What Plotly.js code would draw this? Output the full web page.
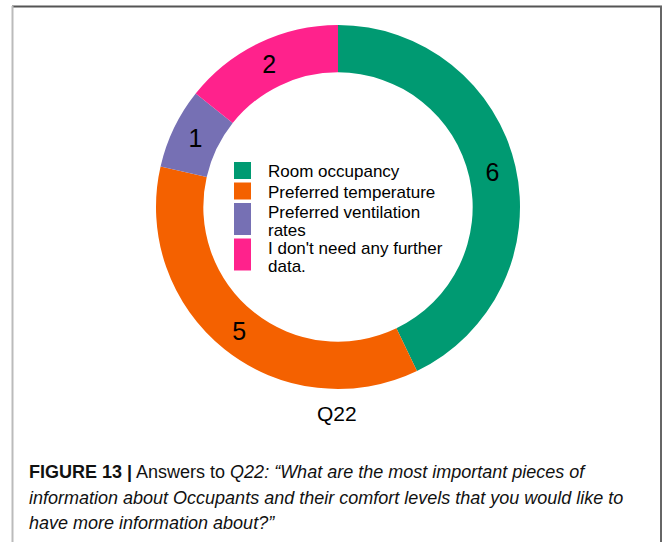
<!DOCTYPE html>
<html>
<head>
<meta charset="utf-8">
<script src="https://cdn.plot.ly/plotly-3.0.1.min.js"></script>
<style>html,body{margin:0;padding:0;background:#fff;}#chart{width:663px;height:542px;}</style>
</head>
<body>
<div id="chart"></div>
<script>
// Data
const categories = ['Room occupancy', 'Preferred temperature', 'Preferred ventilation<br>rates', "I don't need any further<br>data."];
const counts = [6, 5, 1, 2];
const colors = ['#009A72', '#F46100', '#7670B4', '#FF228C'];
const chartTitle = 'Q22';
const captionLines = [
  '<b>FIGURE 13 |</b> Answers to <i>Q22: “What are the most important pieces of</i>',
  '<i>information about Occupants and their comfort levels that you would like to</i>',
  '<i>have more information about?”</i>'
];

const W = 663, H = 542;
const px = x => x / W;
const py = y => 1 - y / H;

const cx = 338, cy = 207, R = 182;

const trace = {
  type: 'pie',
  values: counts,
  labels: categories,
  marker: {colors: colors, line: {width: 0}},
  hole: 0.74,
  sort: false,
  direction: 'clockwise',
  rotation: 0,
  textinfo: 'value',
  textposition: 'inside',
  insidetextorientation: 'horizontal',
  textfont: {family: 'Liberation Sans, Arial, sans-serif', size: 25, color: '#000'},
  domain: {x: [px(cx - R), px(cx + R)], y: [py(cy + R), py(cy - R)]},
  showlegend: false,
  hoverinfo: 'label+value'
};

const shapes = [];
const annotations = [];

// frame
shapes.push({type: 'line', xref: 'paper', yref: 'paper', x0: px(12), x1: px(662), y0: py(6.5), y1: py(6.5), line: {color: '#555', width: 2}});
shapes.push({type: 'line', xref: 'paper', yref: 'paper', x0: px(12.5), x1: px(12.5), y0: py(6), y1: py(542), line: {color: '#bbb', width: 2}});
shapes.push({type: 'line', xref: 'paper', yref: 'paper', x0: px(661), x1: px(661), y0: py(6), y1: py(542), line: {color: '#666', width: 2}});

// custom legend inside the hole
const legX0 = 234, legX1 = 251, textX = 266;
const lineH = 18, entryGap = 3.5;
let yTop = 162;
categories.forEach((c, i) => {
  const lines = c.split('<br>');
  const h = 17 + (lines.length - 1) * 15;
  shapes.push({type: 'rect', xref: 'paper', yref: 'paper', x0: px(legX0), x1: px(legX1), y0: py(yTop), y1: py(yTop + h), fillcolor: colors[i], line: {width: 0}});
  lines.forEach((ln, j) => {
    annotations.push({xref: 'paper', yref: 'paper', x: px(textX), y: py(yTop + 9.5 + j * lineH), xanchor: 'left', yanchor: 'middle', showarrow: false, text: ln, font: {family: 'Liberation Sans, Arial, sans-serif', size: 17, color: '#000'}});
  });
  yTop += h + entryGap;
});

// chart title below ring
annotations.push({xref: 'paper', yref: 'paper', x: px(337), y: py(413), xanchor: 'center', yanchor: 'middle', showarrow: false, text: chartTitle, font: {family: 'Liberation Sans, Arial, sans-serif', size: 21, color: '#000'}});

// caption
const capY = [472, 498, 523];
captionLines.forEach((t, i) => {
  annotations.push({xref: 'paper', yref: 'paper', x: px(27), y: py(capY[i]), xanchor: 'left', yanchor: 'middle', showarrow: false, align: 'left', text: t, font: {family: 'Liberation Sans, Arial, sans-serif', size: 18, color: '#111'}});
});

const layout = {
  width: W, height: H,
  margin: {l: 0, r: 0, t: 0, b: 0},
  paper_bgcolor: '#fff',
  plot_bgcolor: '#fff',
  showlegend: false,
  shapes: shapes,
  annotations: annotations
};

Plotly.newPlot('chart', [trace], layout, {staticPlot: true, displayModeBar: false});
</script>
</body>
</html>
